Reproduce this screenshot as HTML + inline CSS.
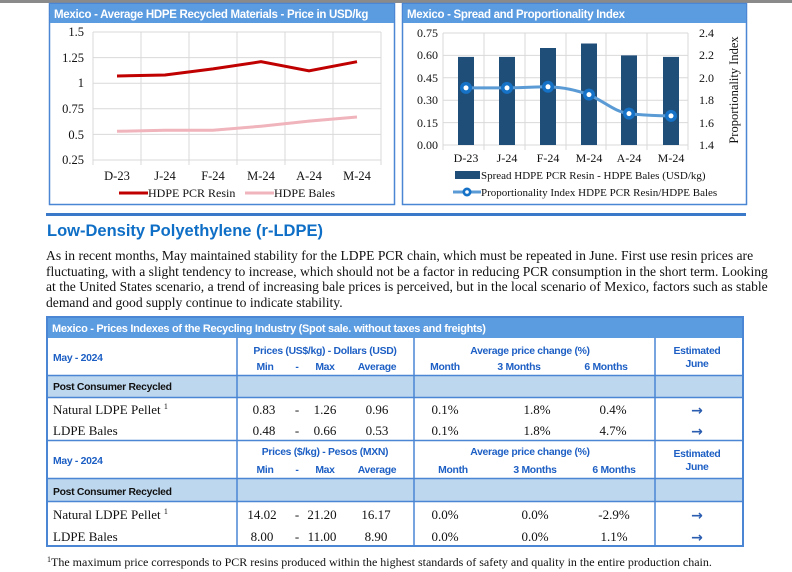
<!DOCTYPE html>
<html><head><meta charset="utf-8"><style>
body{margin:0;width:792px;height:572px;background:#fff;position:relative;overflow:hidden;font-family:"Liberation Serif",serif}
.p{position:absolute;left:46px;width:700px;font-size:13.6px;color:#111;line-height:15.5px}
.p div{text-align:justify;text-align-last:justify;white-space:nowrap}
.p div.l{text-align-last:left}
</style></head><body>
<svg width="792" height="572" style="position:absolute;left:0;top:0" font-family="Liberation Serif, serif">
<rect x="0" y="0" width="792" height="3" fill="#8a8a8a"/>
<!-- chart 1 -->
<rect x="49.5" y="3.5" width="345" height="201" fill="#fff" stroke="#4a86d4" stroke-width="1.5"/>
<rect x="50" y="4" width="344" height="19" fill="#5b9be0"/>
<text x="54" y="18" font-family="Liberation Sans, sans-serif" font-weight="bold" font-size="11.5" fill="#fff" letter-spacing="-0.3">Mexico - Average HDPE Recycled Materials - Price in USD/kg</text>
<g stroke="#d9d9d9" stroke-width="1">
<line x1="93" y1="32" x2="381" y2="32"/><line x1="93" y1="57.6" x2="381" y2="57.6"/><line x1="93" y1="83.2" x2="381" y2="83.2"/><line x1="93" y1="108.8" x2="381" y2="108.8"/><line x1="93" y1="134.4" x2="381" y2="134.4"/><line x1="93" y1="160" x2="381" y2="160"/>
<line x1="93" y1="32" x2="93" y2="165"/><line x1="141" y1="32" x2="141" y2="165"/><line x1="189" y1="32" x2="189" y2="165"/><line x1="237" y1="32" x2="237" y2="165"/><line x1="285" y1="32" x2="285" y2="165"/><line x1="333" y1="32" x2="333" y2="165"/><line x1="381" y1="32" x2="381" y2="165"/>
</g>
<g font-size="12.5" text-anchor="end" fill="#111">
<text x="84" y="36">1.5</text><text x="84" y="62">1.25</text><text x="84" y="87">1</text><text x="84" y="113">0.75</text><text x="84" y="139">0.5</text><text x="84" y="164">0.25</text>
</g>
<g font-size="12.5" text-anchor="middle" fill="#111">
<text x="117" y="180">D-23</text><text x="165" y="180">J-24</text><text x="213" y="180">F-24</text><text x="261" y="180">M-24</text><text x="309" y="180">A-24</text><text x="357" y="180">M-24</text>
</g>
<polyline points="117,131.3 165,130.3 213,130.3 261,126.2 309,121.1 357,117" fill="none" stroke="#f0b4bc" stroke-width="3"/>
<polyline points="117,76 165,75 213,68.9 261,61.7 309,70.9 357,61.7" fill="none" stroke="#c00000" stroke-width="3"/>
<line x1="119" y1="193" x2="148" y2="193" stroke="#c00000" stroke-width="3"/>
<text x="148" y="197" font-size="12" fill="#111">HDPE PCR Resin</text>
<line x1="245" y1="193" x2="274" y2="193" stroke="#f0b4bc" stroke-width="3"/>
<text x="274" y="197" font-size="12" fill="#111">HDPE Bales</text>
<!-- chart 2 -->
<rect x="402.5" y="3.5" width="344" height="201" fill="#fff" stroke="#4a86d4" stroke-width="1.5"/>
<rect x="403" y="4" width="343" height="19" fill="#5b9be0"/>
<text x="407" y="18" font-family="Liberation Sans, sans-serif" font-weight="bold" font-size="11.5" fill="#fff" letter-spacing="-0.3">Mexico - Spread and Proportionality Index</text>
<g stroke="#d9d9d9" stroke-width="1">
<line x1="443" y1="33" x2="688" y2="33"/><line x1="443" y1="55.4" x2="688" y2="55.4"/><line x1="443" y1="77.8" x2="688" y2="77.8"/><line x1="443" y1="100.2" x2="688" y2="100.2"/><line x1="443" y1="122.6" x2="688" y2="122.6"/><line x1="443" y1="145" x2="688" y2="145"/>
<line x1="443" y1="33" x2="443" y2="150"/><line x1="484" y1="33" x2="484" y2="150"/><line x1="525" y1="33" x2="525" y2="150"/><line x1="566" y1="33" x2="566" y2="150"/><line x1="606" y1="33" x2="606" y2="150"/><line x1="647" y1="33" x2="647" y2="150"/><line x1="688" y1="33" x2="688" y2="150"/>
</g>
<g font-size="12" text-anchor="end" fill="#111">
<text x="438" y="37">0.75</text><text x="438" y="59">0.60</text><text x="438" y="82">0.45</text><text x="438" y="104">0.30</text><text x="438" y="127">0.15</text><text x="438" y="149">0.00</text>
</g>
<g font-size="12" fill="#111">
<text x="699" y="37">2.4</text><text x="699" y="59">2.2</text><text x="699" y="82">2.0</text><text x="699" y="104">1.8</text><text x="699" y="127">1.6</text><text x="699" y="149">1.4</text>
</g>
<text transform="translate(738,90) rotate(-90)" text-anchor="middle" font-size="12.5" fill="#111">Proportionality Index</text>
<g fill="#1f4e79">
<rect x="458" y="56.9" width="16" height="88.1"/><rect x="499" y="56.9" width="16" height="88.1"/><rect x="540" y="48" width="16" height="97"/><rect x="581" y="43.5" width="16" height="101.5"/><rect x="621" y="55.4" width="16" height="89.6"/><rect x="663" y="56.9" width="16" height="88.1"/>
</g>
<g font-size="12" text-anchor="middle" fill="#111">
<text x="466" y="162">D-23</text><text x="507" y="162">J-24</text><text x="548" y="162">F-24</text><text x="589" y="162">M-24</text><text x="629" y="162">A-24</text><text x="671" y="162">M-24</text>
</g>
<path d="M466,87.9 L507,87.9 C530,87.5 540,86.6 548,86.8 C565,87.5 575,90 589,94.6 C605,102 615,112 629,113.6 C645,115.5 660,115.8 671,115.9" fill="none" stroke="#5b9bd5" stroke-width="3"/>
<g fill="#1572c6">
<circle cx="466" cy="87.9" r="6"/><circle cx="507" cy="87.9" r="6"/><circle cx="548" cy="86.8" r="6"/><circle cx="589" cy="94.6" r="6"/><circle cx="629" cy="113.6" r="6"/><circle cx="671" cy="115.9" r="6"/>
</g>
<g fill="#fff">
<circle cx="466" cy="87.9" r="2.5"/><circle cx="507" cy="87.9" r="2.5"/><circle cx="548" cy="86.8" r="2.5"/><circle cx="589" cy="94.6" r="2.5"/><circle cx="629" cy="113.6" r="2.5"/><circle cx="671" cy="115.9" r="2.5"/>
</g>
<rect x="455" y="171" width="25" height="8" fill="#1f4e79"/>
<text x="481" y="179" font-size="11" fill="#111">Spread HDPE PCR Resin - HDPE Bales (USD/kg)</text>
<line x1="453" y1="192" x2="481" y2="192" stroke="#5b9bd5" stroke-width="3"/>
<circle cx="467" cy="192" r="4.5" fill="#1572c6"/><circle cx="467" cy="192" r="1.8" fill="#fff"/>
<text x="481" y="196" font-size="11" fill="#111">Proportionality Index HDPE PCR Resin/HDPE Bales</text>
<!-- heading -->
<rect x="46" y="213" width="700" height="3" fill="#3a78c9"/>
<text x="47" y="236" font-family="Liberation Sans, sans-serif" font-weight="bold" font-size="16.5" fill="#0f6fc6">Low-Density Polyethylene (r-LDPE)</text>
<!-- table -->
<g font-family="Liberation Sans, sans-serif">
<rect x="47" y="317" width="696" height="229" fill="#fff" stroke="#4a86d4" stroke-width="2"/>
<rect x="48" y="318" width="694" height="20" fill="#5b9be0"/>
<text x="52" y="332" font-weight="bold" font-size="11" fill="#fff" letter-spacing="-0.3">Mexico - Prices Indexes of the Recycling Industry (Spot sale. without taxes and freights)</text>
<rect x="48" y="376" width="694" height="21" fill="#bdd7ee"/>
<rect x="48" y="479" width="694" height="22" fill="#bdd7ee"/>
<g stroke="#4a86d4" stroke-width="1.5">
<line x1="48" y1="375.5" x2="742" y2="375.5"/><line x1="48" y1="397.5" x2="742" y2="397.5"/>
<line x1="48" y1="440.5" x2="742" y2="440.5"/><line x1="48" y1="478.5" x2="742" y2="478.5"/><line x1="48" y1="501.5" x2="742" y2="501.5"/>
<line x1="237" y1="338" x2="237" y2="546"/><line x1="414" y1="338" x2="414" y2="546"/><line x1="655" y1="338" x2="655" y2="546"/>
</g>
<g font-weight="bold" font-size="10.4" fill="#1d5fc4" letter-spacing="-0.3">
<text x="53" y="361">May - 2024</text>
<text x="325" y="354" text-anchor="middle">Prices (US$/kg) - Dollars (USD)</text>
<text x="265" y="370" text-anchor="middle">Min</text><text x="297" y="370" text-anchor="middle">-</text><text x="325" y="370" text-anchor="middle">Max</text><text x="377" y="370" text-anchor="middle">Average</text>
<text x="530" y="354" text-anchor="middle">Average price change (%)</text>
<text x="445" y="370" text-anchor="middle">Month</text><text x="519" y="370" text-anchor="middle">3 Months</text><text x="606" y="370" text-anchor="middle">6 Months</text>
<text x="697" y="354" text-anchor="middle">Estimated</text><text x="697" y="367" text-anchor="middle">June</text>
<text x="53" y="464">May - 2024</text>
<text x="325" y="455" text-anchor="middle">Prices ($/kg) - Pesos (MXN)</text>
<text x="265" y="473" text-anchor="middle">Min</text><text x="297" y="473" text-anchor="middle">-</text><text x="325" y="473" text-anchor="middle">Max</text><text x="377" y="473" text-anchor="middle">Average</text>
<text x="530" y="455" text-anchor="middle">Average price change (%)</text>
<text x="453" y="473" text-anchor="middle">Month</text><text x="535" y="473" text-anchor="middle">3 Months</text><text x="614" y="473" text-anchor="middle">6 Months</text>
<text x="697" y="457" text-anchor="middle">Estimated</text><text x="697" y="470" text-anchor="middle">June</text>
</g>
<g font-weight="bold" font-size="10.4" fill="#111" letter-spacing="-0.3">
<text x="53" y="390">Post Consumer Recycled</text><text x="53" y="495">Post Consumer Recycled</text>
</g>
</g>
<g font-size="13" fill="#111" text-anchor="middle">
<text x="53" y="414" text-anchor="start">Natural LDPE Pellet <tspan font-size="8" dy="-5">1</tspan></text>
<text x="53" y="435" text-anchor="start">LDPE Bales</text>
<text x="264" y="414">0.83</text><text x="297" y="414">-</text><text x="325" y="414">1.26</text><text x="377" y="414">0.96</text>
<text x="445" y="414">0.1%</text><text x="537" y="414">1.8%</text><text x="613" y="414">0.4%</text>
<text x="264" y="435">0.48</text><text x="297" y="435">-</text><text x="325" y="435">0.66</text><text x="377" y="435">0.53</text>
<text x="445" y="435">0.1%</text><text x="537" y="435">1.8%</text><text x="613" y="435">4.7%</text>
<text x="53" y="519" text-anchor="start">Natural LDPE Pellet <tspan font-size="8" dy="-5">1</tspan></text>
<text x="53" y="541" text-anchor="start">LDPE Bales</text>
<text x="262" y="519">14.02</text><text x="297" y="519">-</text><text x="322" y="519">21.20</text><text x="376" y="519">16.17</text>
<text x="445" y="519">0.0%</text><text x="535" y="519">0.0%</text><text x="614" y="519">-2.9%</text>
<text x="262" y="541">8.00</text><text x="297" y="541">-</text><text x="322" y="541">11.00</text><text x="376" y="541">8.90</text>
<text x="445" y="541">0.0%</text><text x="535" y="541">0.0%</text><text x="614" y="541">1.1%</text>
</g>
<g font-family="DejaVu Sans, sans-serif" font-weight="bold" font-size="14" fill="#2a5db0" text-anchor="middle">
<text x="697" y="415">→</text><text x="697" y="436">→</text><text x="697" y="520">→</text><text x="697" y="542">→</text>
</g>
<text x="47" y="566" font-size="12" fill="#111"><tspan font-size="8" dy="-4">1</tspan><tspan dy="4">The maximum price corresponds to PCR resins produced within the highest standards of safety and quality in the entire production chain.</tspan></text>
</svg>
<div class="p" style="top:248px">
<div>As in recent months, May maintained stability for the LDPE PCR chain, which must be repeated in June. First use resin prices are</div>
<div>fluctuating, with a slight tendency to increase, which should not be a factor in reducing PCR consumption in the short term. Looking</div>
<div>at the United States scenario, a trend of increasing bale prices is perceived, but in the local scenario of Mexico, factors such as stable</div>
<div class="l">demand and good supply continue to indicate stability.</div>
</div>
</body></html>
